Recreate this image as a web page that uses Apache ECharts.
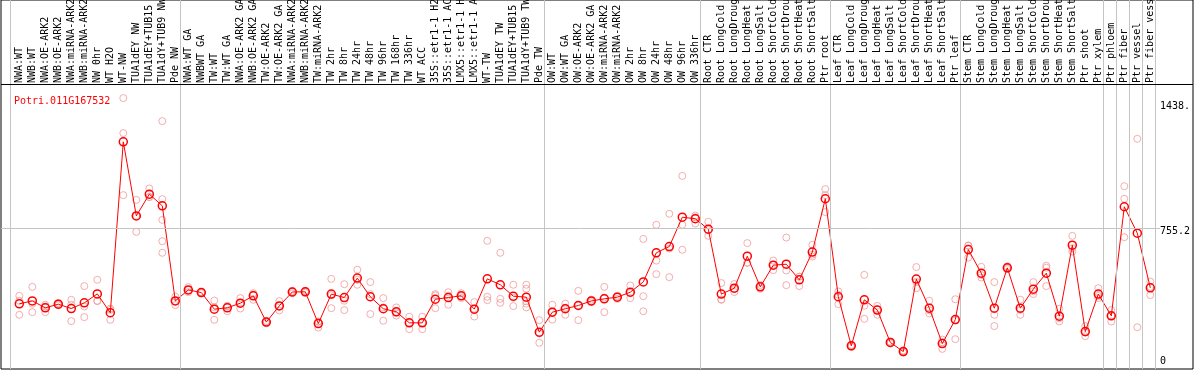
<!DOCTYPE html>
<html>
<head>
<meta charset="utf-8">
<script src="https://cdn.jsdelivr.net/npm/echarts@6/dist/echarts.min.js"></script>
<style>
html,body{margin:0;padding:0;background:#fff;}
#chart{width:1194px;height:370px;}
</style>
</head>
<body>
<div id="chart"></div>
<script>
const geneName = 'Potri.011G167532';

const categories = [
  'NWA:WT','NWB:WT','NWA:OE-ARK2','NWB:OE-ARK2','NWA:miRNA-ARK2','NWB:miRNA-ARK2','NW 0hr','WT H2O','WT-NW','TUA1dEY NW',
  'TUA1dEY+TUB15 NW','TUA1dY+TUB9 NW','Pde NW',
  'NWA:WT GA','NWBWT GA','TW:WT','TW:WT GA','NWA:OE-ARK2 GA','NWB:OE-ARK2 GA','TW:OE-ARK2','TW:OE-ARK2 GA','NWA:miRNA-ARK2','NWB:miRNA-ARK2',
  'TW:miRNA-ARK2','TW 2hr','TW 8hr','TW 24hr','TW 48hr','TW 96hr','TW 168hr','TW 336hr','WT ACC','35S::etr1-1 H2O','35S::etr1-1 ACC',
  'LMX5::etr1-1 H2O','LMX5::etr1-1 ACC','WT-TW','TUA1dEY TW','TUA1dEY+TUB15 TW','TUA1dY+TUB9 TW','Pde TW',
  'OW:WT','OW:WT GA','OW:OE-ARK2','OW:OE-ARK2 GA','OW:miRNA-ARK2','OW:miRNA-ARK2','OW 2hr','OW 8hr','OW 24hr','OW 48hr','OW 96hr','OW 336hr',
  'Root CTR','Root LongCold','Root LongDrought','Root LongHeat','Root LongSalt','Root ShortCold','Root ShortDrought','Root ShortHeat','Root ShortSalt','Ptr root',
  'Leaf CTR','Leaf LongCold','Leaf LongDrought','Leaf LongHeat','Leaf LongSalt','Leaf ShortCold','Leaf ShortDrought','Leaf ShortHeat','Leaf ShortSalt','Ptr leaf',
  'Stem CTR','Stem LongCold','Stem LongDrought','Stem LongHeat','Stem LongSalt','Stem ShortCold','Stem ShortDrought','Stem ShortHeat','Stem ShortSalt','Ptr shoot',
  'Ptr xylem','Ptr phloem','Ptr fiber','Ptr vessel','Ptr fiber vessel'
];

const means = [
  358,373,337,356,333,363,410,311,1209,820,
  934,873,373,431,417,330,337,361,400,262,
  347,420,421,254,409,391,493,395,332,316,
  258,258,382,391,400,330,489,458,398,393,
  209,314,332,349,373,384,393,419,473,626,
  659,813,805,750,409,440,608,447,561,566,
  484,630,910,395,137,379,325,155,107,488,
  335,149,275,643,519,335,547,335,435,519,
  293,666,212,409,295,868,729,442
];

const replicates = [
  [400,300,374],[447,314,358],[353,314,344],[362,350,356],[379,267,353],[451,288,344],[484,374,372],[333,274,326],[1439,1255,929],[904,736,820],
  [964,919,919],[1318,908,799,687,626],[396,351,373],[446,419,431],[417,420,414],[375,274,340],[319,345,347],[388,333,361],[414,379,407],[256,268,262],
  [372,323,347],[421,426,413],[426,421,416],[233,265,264],[489,335,403],[461,325,374],[537,458,484],[472,304,409],[388,269,339],[339,296,313],
  [290,225,259],[290,225,259],[409,335,402],[419,353,401],[414,388,398],[367,291,332],[689,395,377],[626,384,363],[458,346,390],[458,437,359,339,372],
  [272,153,202],[353,275,314],[359,300,337],[426,272,349],[380,366,373],[447,314,391],[400,384,395],[454,388,415],[699,398,319],[773,585,514],
  [831,648,498],[1030,773,642],[822,780,813],[789,715,746],[467,381,379],[462,420,438],[677,573,574],[457,437,447],[585,535,563],[706,533,456],
  [501,451,500],[668,606,616],[961,840,929],[423,356,406],[142,132,137],[510,279,348],[347,300,328],[160,150,155],[112,102,107],[551,440,473],
  [374,307,324],[170,121,156],[382,172,271],[664,601,664],[552,496,509],[472,300,241],[555,540,546],[379,300,326],[472,409,424],[558,451,548],
  [332,265,282],[715,633,650],[241,188,207],[440,388,399],[325,265,295],[976,910,708],[1225,235],[475,404,447]
];

// number of categories up to each vertical separator
const groupEnds = [0, 13, 41, 53, 63, 73, 84, 85, 86, 87, 88];

const yTickLabels = ['1438.', '755.2', '0'];
const plotMax = 1510.4;   // top of the plotting band
const midLine = 755.2;

const MONO = 'DejaVu Sans Mono';

const chart = echarts.init(document.getElementById('chart'), null, {renderer: 'canvas'});

const meanData = means.map((v, i) => [i, v]);
const repData = [];
replicates.forEach((arr, i) => arr.forEach(v => repData.push([i, v])));

const sepLines = groupEnds.map(n => ({xAxis: n === 0 ? -0.7 : n - 1 + 0.4}));

const option = {
  animation: false,
  backgroundColor: '#fff',
  title: {
    text: geneName, left: 9, top: 91,
    textStyle: {color: '#ff0000', fontSize: 10, fontWeight: 'normal', fontFamily: MONO}
  },
  grid: [
    {left: 1, right: 1, top: 0, bottom: 1, show: true, borderColor: '#000', borderWidth: 1,
     backgroundColor: 'transparent', outerBoundsMode: 'none', containLabel: false},
    {left: 12.8, width: 1144, top: 85, bottom: 1, outerBoundsMode: 'none', containLabel: false}
  ],
  xAxis: [
    {type: 'value', gridIndex: 0, min: (1 - 19.3) / 13, max: (1193 - 19.3) / 13,
     axisLine: {show: false}, axisTick: {show: false}, axisLabel: {show: false}, splitLine: {show: false}},
    {type: 'category', gridIndex: 1, position: 'top', data: categories, boundaryGap: true,
     axisLine: {show: false}, axisTick: {show: false}, splitLine: {show: false},
     axisLabel: {show: true, rotate: 90, interval: 0, margin: 2, fontSize: 10, fontFamily: MONO, color: '#000', hideOverlap: false}}
  ],
  yAxis: [
    {type: 'value', gridIndex: 0, min: plotMax - (369 - 84.5) / 0.1903, max: plotMax + 84.5 / 0.1903,
     axisLine: {show: false}, axisTick: {show: false}, axisLabel: {show: false}, splitLine: {show: false}},
    {type: 'value', gridIndex: 1, show: false}
  ],
  graphic: yTickLabels.map((t, k) => ({
    type: 'text', left: 1160, top: [101, 226, 356][k],
    style: {text: t, fontSize: 10, fontFamily: MONO, fill: '#000'}
  })),
  series: [
    {
      type: 'scatter', xAxisIndex: 0, yAxisIndex: 0, data: repData, z: 2,
      symbol: 'circle', symbolSize: 7,
      itemStyle: {color: 'rgba(0,0,0,0)', borderColor: '#f09a9a', borderWidth: 1},
      silent: true,
      markLine: {
        silent: true, symbol: ['none', 'none'], label: {show: false},
        lineStyle: {color: '#c4c4c4', width: 1, type: 'solid'},
        data: sepLines.concat([
          [{coord: [(1 - 19.3) / 13, midLine]}, {coord: [(1160 - 19.3) / 13, midLine]}]
        ])
      }
    },
    {
      type: 'line', xAxisIndex: 0, yAxisIndex: 0, data: meanData, z: 4,
      symbol: 'circle', symbolSize: 8, showSymbol: true,
      lineStyle: {color: '#ff0000', width: 1},
      itemStyle: {color: 'rgba(0,0,0,0)', borderColor: '#ff0000', borderWidth: 1.5},
      silent: true,
      markLine: {
        silent: true, symbol: ['none', 'none'], label: {show: false},
        lineStyle: {color: '#000', width: 1, type: 'solid'},
        data: [{yAxis: plotMax}]
      }
    }
  ]
};
chart.setOption(option);
</script>
</body>
</html>
